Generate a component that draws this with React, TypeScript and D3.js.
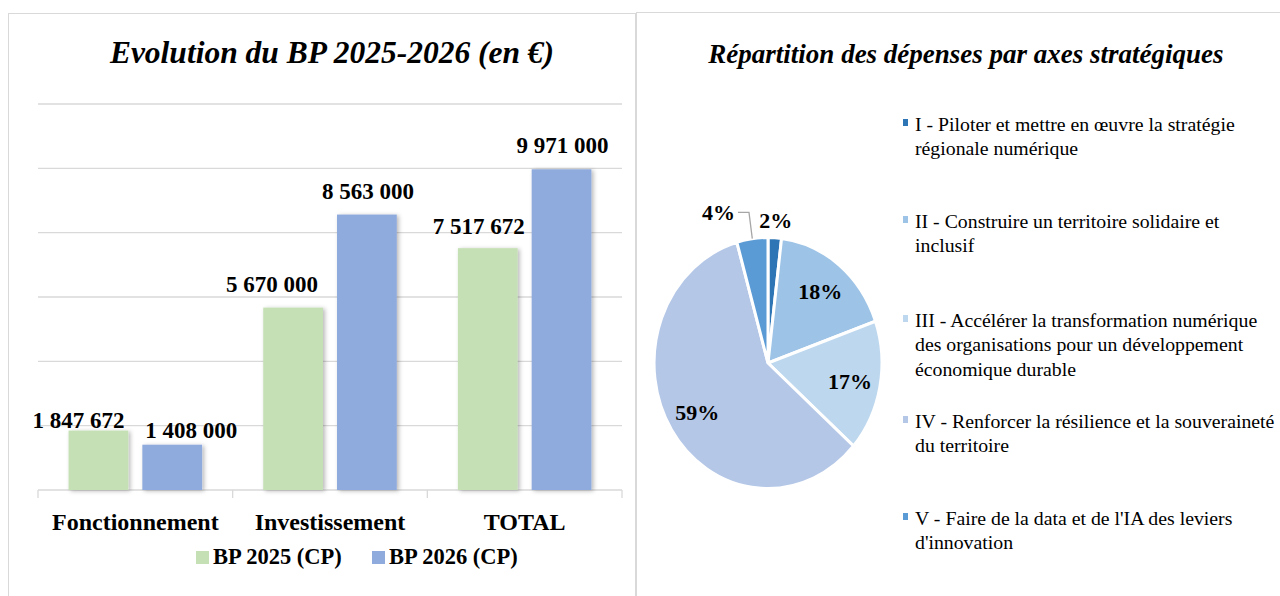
import React from "react";
import * as d3 from "d3";

// ---------- Bar chart data ----------
const categories = ["Fonctionnement", "Investissement", "TOTAL"];
const seriesNames = ["BP 2025 (CP)", "BP 2026 (CP)"];
const bp2025 = [1847672, 5670000, 7517672];
const bp2026 = [1408000, 8563000, 9971000];
const yTicks = [0, 2000000, 4000000, 6000000, 8000000, 10000000, 12000000];

// ---------- Pie chart data ----------
const axesLabels = [
  ["I - Piloter et mettre en œuvre la stratégie", "régionale numérique"],
  ["II - Construire un territoire solidaire et", "inclusif"],
  ["III - Accélérer la transformation numérique", "des organisations pour un développement", "économique durable"],
  ["IV - Renforcer la résilience et la souveraineté", "du territoire"],
  ["V - Faire de la data et de l'IA des leviers", "d'innovation"],
];
const axesShares = [1.9, 17.7, 16.9, 59.1, 4.4];

// ---------- styles ----------
const SERIF = "'Liberation Serif', 'Times New Roman', serif";
const seriesColors = ["#C5E0B4", "#8FAADC"];
const pieColors = ["#2E75B6", "#9DC3E6", "#BDD7EE", "#B4C7E7", "#5B9BD5"];
const GRID = "#D9D9D9";

// manual label nudges (as in the source chart)
const labelDx = [[-20, -21, -9], [19, 1, 1]];
const labelDy = [[13.5, 0, 1.5], [9, 0, 0]];

const fmt = (v: number) => d3.format(",")(v).replace(/,/g, " ");

export default function App() {
  // bar chart scales
  const y = d3.scaleLinear().domain([0, 12000000]).range([490, 104]);
  const x0 = d3.scaleBand<string>().domain(categories).range([38, 622]).padding(0);
  const bw = x0.bandwidth();
  const x1 = d3
    .scaleBand<number>()
    .domain([0, 1])
    .range([bw * 0.157, bw * 0.843])
    .paddingInner(0.19);
  const seriesData = [bp2025, bp2026];

  // pie
  const cx = 768, cy = 363, R = 125.5, sx = 0.908;
  const pie = d3.pie<number>().sort(null).value((d) => d).startAngle(0).endAngle(2 * Math.PI);
  const arcs = pie(axesShares);
  const arc = d3.arc<d3.PieArcDatum<number>>().innerRadius(0).outerRadius(R);
  const polar = (a: number, r: number) => [cx + sx * r * Math.sin(a), cy - r * Math.cos(a)];
  const total = d3.sum(axesShares);

  const legendBaselines = [131, 228, 327, 428, 525];

  return (
    <svg
      width={1280}
      height={596}
      style={{ position: "absolute", left: 0, top: 0, background: "#fff" }}
      fontFamily={SERIF}
    >
      <defs>
        <filter id="sh" x="-20%" y="-20%" width="150%" height="150%">
          <feDropShadow dx="2" dy="1" stdDeviation="2" floodColor="#000" floodOpacity="0.28" />
        </filter>
      </defs>
      <rect x={0} y={0} width={1280} height={596} fill="#fff" />
      {/* panels */}
      <rect x={8.5} y={13.5} width={627} height={620} fill="none" stroke={GRID} strokeWidth={1} />
      <rect x={636.5} y={12.5} width={700} height={620} fill="none" stroke={GRID} strokeWidth={1} />

      {/* Left title */}
      <text x={332} y={63} textAnchor="middle" fontSize={31.5} fontWeight="bold" fontStyle="italic">
        Evolution du BP 2025-2026 (en €)
      </text>

      {/* grid */}
      {yTicks.map((t) => (
        <line key={t} x1={38} x2={622} y1={y(t)} y2={y(t)} stroke={GRID} strokeWidth={1.3} />
      ))}
      {/* category ticks */}
      {[...categories.map((c) => x0(c) as number), 622].map((xx, i) => (
        <line key={i} x1={xx} x2={xx} y1={490} y2={498} stroke={GRID} strokeWidth={1.3} />
      ))}

      {/* bars */}
      {seriesData.map((vals, s) =>
        vals.map((v, i) => {
          const bx = (x0(categories[i]) as number) + (x1(s) as number);
          return (
            <rect
              key={`${s}-${i}`}
              x={bx}
              y={y(v)}
              width={x1.bandwidth()}
              height={y(0) - y(v)}
              fill={seriesColors[s]}
              filter="url(#sh)"
            />
          );
        })
      )}
      {/* data labels */}
      {seriesData.map((vals, s) =>
        vals.map((v, i) => {
          const bx = (x0(categories[i]) as number) + (x1(s) as number) + x1.bandwidth() / 2;
          return (
            <text
              key={`l${s}-${i}`}
              x={bx + labelDx[s][i]}
              y={y(v) - 16 + labelDy[s][i]}
              textAnchor="middle"
              fontSize={23}
              fontWeight="bold"
            >
              {fmt(v)}
            </text>
          );
        })
      )}
      {/* category labels */}
      {categories.map((c) => (
        <text key={c} x={(x0(c) as number) + bw / 2} y={530} textAnchor="middle" fontSize={24} fontWeight="bold">
          {c}
        </text>
      ))}
      {/* legend */}
      {seriesNames.map((n, i) => (
        <g key={n} transform={`translate(${i === 0 ? 196 : 372},0)`}>
          <rect x={0} y={551} width={13} height={13} fill={seriesColors[i]} />
          <text x={17} y={564} fontSize={22.5} fontWeight="bold">
            {n}
          </text>
        </g>
      ))}

      {/* Right title */}
      <text x={966} y={63} textAnchor="middle" fontSize={27} fontWeight="bold" fontStyle="italic">
        Répartition des dépenses par axes stratégiques
      </text>

      {/* pie */}
      <g transform={`translate(${cx},${cy}) scale(${sx},1)`}>
        {arcs.map((a, i) => (
          <path
            key={i}
            d={arc(a) as string}
            fill={pieColors[i]}
            stroke="#fff"
            strokeWidth={3}
            vectorEffect="non-scaling-stroke"
          />
        ))}
      </g>
      {/* pie labels */}
      {arcs.map((a, i) => {
        const mid = (a.startAngle + a.endAngle) / 2;
        const pct = `${Math.round((a.value / total) * 100)}%`;
        const share = a.value / total;
        if (share > 0.1) {
          const [lx, ly] = polar(mid, 92);
          return (
            <text key={i} x={lx} y={ly + 8} textAnchor="middle" fontSize={22} fontWeight="bold">
              {pct}
            </text>
          );
        }
        if (i === 0) {
          const [lx, ly] = polar(mid, 143);
          return (
            <text key={i} x={lx} y={ly + 8} textAnchor="middle" fontSize={22} fontWeight="bold">
              {pct}
            </text>
          );
        }
        const [ex, ey] = polar(mid, R);
        const [kx, ky] = polar(mid, 152);
        return (
          <g key={i}>
            <polyline
              points={`${ex},${ey} ${kx},${ky} ${kx - 11},${ky}`}
              fill="none"
              stroke="#A6A6A6"
              strokeWidth={1.3}
            />
            <text x={kx - 14} y={ky + 8} textAnchor="end" fontSize={22} fontWeight="bold">
              {pct}
            </text>
          </g>
        );
      })}

      {/* pie legend */}
      {axesLabels.map((lines, i) => (
        <g key={i}>
          <rect x={903} y={legendBaselines[i] - 12} width={5} height={7} fill={pieColors[i]} />
          {lines.map((ln, j) => (
            <text key={j} x={915} y={legendBaselines[i] + j * 24.3} fontSize={19.8}>
              {ln}
            </text>
          ))}
        </g>
      ))}
    </svg>
  );
}
